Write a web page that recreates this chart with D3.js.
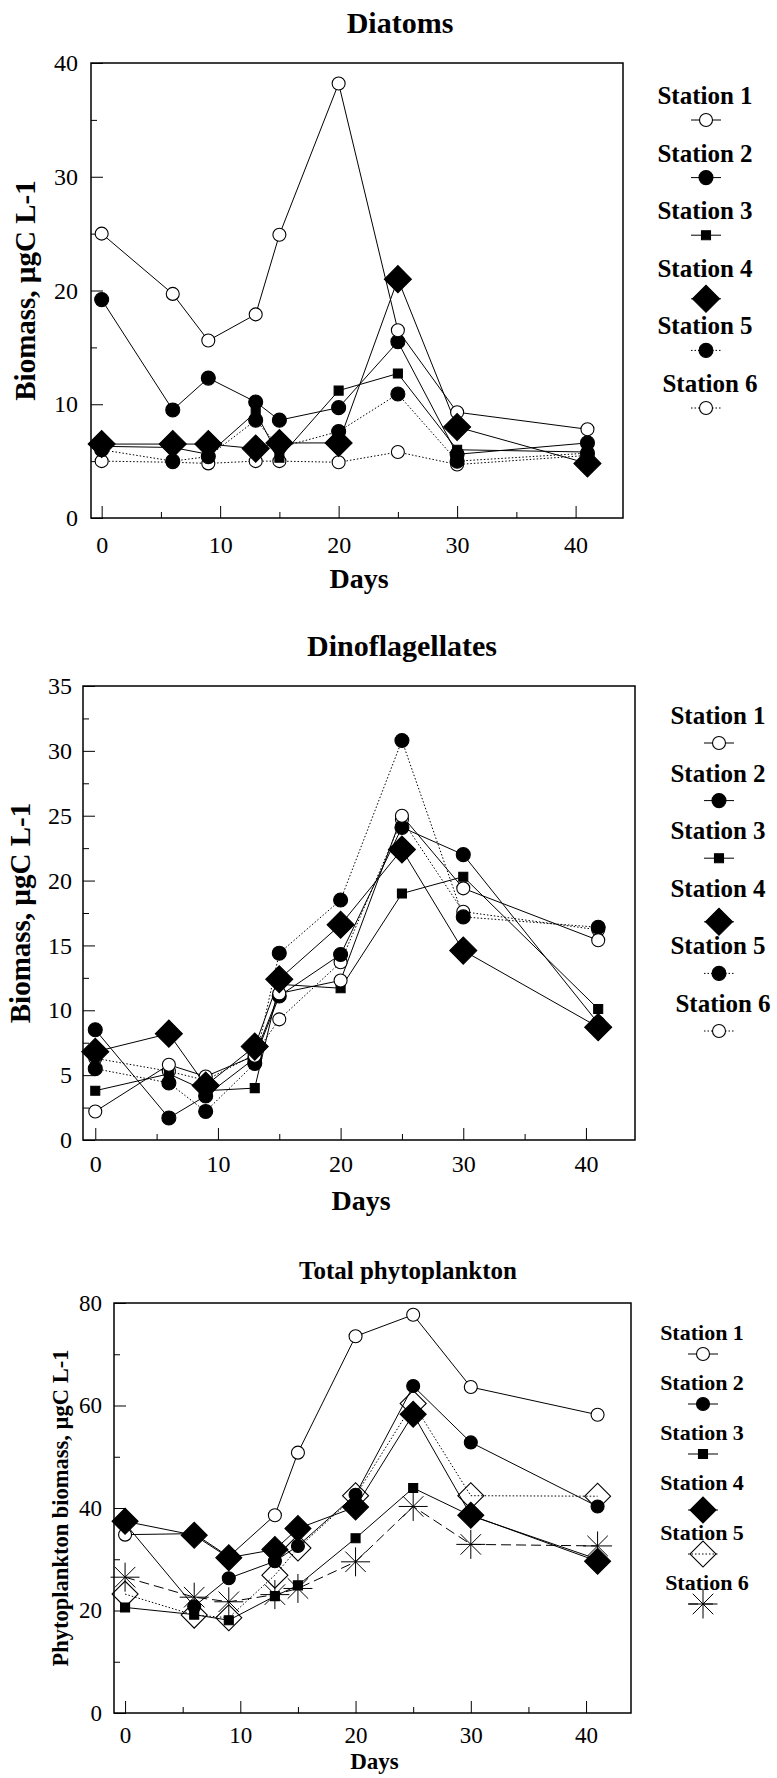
<!DOCTYPE html>
<html>
<head>
<meta charset="utf-8">
<script src="https://cdn.jsdelivr.net/npm/d3@7"></script>
<style>
  body { margin: 0; background: #fff; }
  text { font-family: "Liberation Serif", "Times New Roman", serif; fill: #000; }
</style>
</head>
<body>
<svg id="fig" width="777" height="1778"></svg>
<script>
// sampling days and station names
var days = [0, 6, 9, 13, 15, 20, 25, 30, 41];
var stationNames = ["Station 1", "Station 2", "Station 3", "Station 4", "Station 5", "Station 6"];
var dayTicks = [0, 10, 20, 30, 40];
var dayMinorTicks = [5, 15, 25, 35];

// Diatoms biomass, one row per station
var diatoms = [
    [25.0, 19.7, 15.6, 17.9, 24.9, 38.2, 16.5, 9.3, 7.8],
    [19.2, 9.5, 12.3, 10.2, 8.6, 9.7, 15.5, 5.6, 6.6],
    [6.3, 6.2, 5.6, 9.3, 5.3, 11.2, 12.7, 6.0, 5.8],
    [6.5, 6.5, 6.5, 6.1, 6.6, 6.6, 21.0, 8.0, 4.8],
    [6.0, 5.0, 5.4, 8.6, 6.2, 7.6, 10.9, 5.0, 5.7],
    [5.0, 4.9, 4.8, 5.0, 5.0, 4.9, 5.8, 4.7, 5.5]
];
var diatomTicks = [0, 10, 20, 30, 40];
var diatomMinorTicks = [5, 15, 25, 35];

// Dinoflagellates biomass
var dinoflagellates = [
    [2.2, 5.8, 4.9, 6.5, 11.3, 12.3, 25.0, 19.4, 15.4],
    [8.5, 1.7, 3.4, 6.3, 11.1, 14.3, 24.1, 22.0, 9.0],
    [3.8, 5.1, 3.8, 4.0, 12.0, 11.7, 19.0, 20.3, 10.1],
    [6.8, 8.2, 4.2, 7.2, 12.4, 16.6, 22.4, 14.6, 8.7],
    [5.5, 4.4, 2.2, 5.9, 14.4, 18.5, 30.8, 17.2, 16.4],
    [6.3, 5.3, 4.6, 6.6, 9.3, 13.7, 24.7, 17.6, 16.2]
];
var dinoTicks = [0, 5, 10, 15, 20, 25, 30, 35];
var dinoMinorTicks = [2.5, 7.5, 12.5, 17.5, 22.5, 27.5, 32.5];

// Total phytoplankton biomass
var totalPhyto = [
    [34.8, 35.0, 30.5, 38.6, 50.8, 73.5, 77.7, 63.6, 58.2],
    [37.0, 20.8, 26.3, 29.6, 32.6, 42.6, 63.8, 52.8, 40.3],
    [20.6, 19.2, 18.1, 22.8, 24.9, 34.1, 43.9, 38.5, 30.0],
    [37.4, 34.7, 30.3, 31.9, 36.0, 40.2, 58.3, 38.6, 29.6],
    [23.2, 19.1, 18.6, 26.9, 32.2, 42.4, 60.4, 42.4, 42.3],
    [26.5, 22.6, 21.7, 23.1, 24.3, 29.5, 40.3, 32.9, 32.6]
];
var totalTicks = [0, 20, 40, 60, 80];
var totalMinorTicks = [10, 30, 50, 70];

var DOT = "1.5,2", DASH = "10,5";
var SERIF = '"Liberation Serif", "Times New Roman", serif';

// marker look per station (panels 1 and 2 share one set)
var styleA = [
    { shape: "circle", r: 6.5, fill: "#fff", dash: null },
    { shape: "circle", r: 7, fill: "#000", dash: null },
    { shape: "square", r: 4.5, fill: "#000", dash: null },
    { shape: "diamond", r: 13.5, fill: "#000", dash: null },
    { shape: "circle", r: 7, fill: "#000", dash: DOT },
    { shape: "circle", r: 6.5, fill: "#fff", dash: DOT }
];
var styleB = [
    { shape: "circle", r: 6.5, fill: "#fff", dash: null },
    { shape: "circle", r: 6.5, fill: "#000", dash: null },
    { shape: "square", r: 4.5, fill: "#000", dash: null },
    { shape: "diamond", r: 13, fill: "#000", dash: null },
    { shape: "diamond", r: 13, fill: "none", dash: DOT },
    { shape: "asterisk", r: 14.5, fill: "none", dash: DASH }
];

// 8-armed star, stroke only
var symbolStar = {
    draw: function(context, size) {
        var r = Math.sqrt(size) / 2, d = r * Math.SQRT1_2;
        context.moveTo(-r, 0); context.lineTo(r, 0);
        context.moveTo(0, -r); context.lineTo(0, r);
        context.moveTo(-d, -d); context.lineTo(d, d);
        context.moveTo(-d, d); context.lineTo(d, -d);
    }
};

function markerPath(st) {
    if (st.shape === "circle") return d3.symbol(d3.symbolCircle, Math.PI * st.r * st.r)();
    if (st.shape === "square") return d3.symbol(d3.symbolSquare, 4 * st.r * st.r)();
    if (st.shape === "diamond") return d3.symbol(d3.symbolSquare, 2 * st.r * st.r)();
    return d3.symbol(symbolStar, 4 * st.r * st.r)();
}

function drawMarker(sel, st, px, py) {
    sel.append("path")
        .attr("d", markerPath(st))
        .attr("transform", "translate(" + px + "," + py + ")" + (st.shape === "diamond" ? " rotate(45)" : ""))
        .attr("fill", st.fill)
        .attr("stroke", "#000")
        .attr("stroke-width", st.shape === "asterisk" ? 1 : 1.1);
}

var svg = d3.select("#fig");

function drawPanel(p) {
    var g = svg.append("g");
    var x = d3.scaleLinear().domain(p.xDomain).range([p.left, p.right]);
    var y = d3.scaleLinear().domain(p.yDomain).range([p.bottom, p.top]);

    // title
    g.append("text")
        .attr("x", p.titleX).attr("y", p.titleY)
        .attr("text-anchor", "middle")
        .style("font-size", p.titleSize + "px")
        .style("font-weight", "bold")
        .text(p.title);

    // axes, ticks pointing inside
    var xAxis = g.append("g").attr("transform", "translate(0," + p.bottom + ")")
        .call(d3.axisBottom(x).tickValues(dayTicks).tickSize(-12).tickPadding(p.xPad));
    g.append("g").attr("transform", "translate(0," + p.bottom + ")")
        .call(d3.axisBottom(x).tickValues(dayMinorTicks).tickSize(-6).tickFormat(""));
    var yAxis = g.append("g").attr("transform", "translate(" + p.left + ",0)")
        .call(d3.axisLeft(y).tickValues(p.yTicks).tickSize(-12).tickPadding(p.yPad));
    g.append("g").attr("transform", "translate(" + p.left + ",0)")
        .call(d3.axisLeft(y).tickValues(p.yMinor).tickSize(-6).tickFormat(""));
    g.selectAll(".domain").remove();
    g.selectAll(".tick line").attr("stroke", "#000").attr("stroke-width", 1);
    [xAxis, yAxis].forEach(function(a) {
        a.attr("font-family", SERIF).attr("font-size", p.tickSize);
        a.selectAll("text")
            .attr("fill", "#000")
            .style("font-family", SERIF)
            .style("font-size", p.tickSize + "px");
    });

    // frame
    g.append("rect")
        .attr("x", p.left).attr("y", p.top)
        .attr("width", p.right - p.left).attr("height", p.bottom - p.top)
        .attr("fill", "none").attr("stroke", "#000").attr("stroke-width", 1.5);

    // axis labels
    g.append("text")
        .attr("x", (p.left + p.right) / 2 + 2).attr("y", p.daysY)
        .attr("text-anchor", "middle")
        .style("font-size", p.daysSize + "px").style("font-weight", "bold")
        .text("Days");
    g.append("text")
        .attr("transform", "translate(" + p.yLabelX + "," + (p.top + p.bottom) / 2 + ") rotate(-90)")
        .attr("text-anchor", "middle")
        .style("font-size", p.yLabelSize + "px").style("font-weight", "bold")
        .text(p.yLabel);

    // station lines
    var line = d3.line().x(function(d, i) { return x(days[i]); }).y(function(d) { return y(d); });
    p.data.forEach(function(vals, s) {
        g.append("path")
            .attr("d", line(vals))
            .attr("fill", "none")
            .attr("stroke", "#000")
            .attr("stroke-width", 1)
            .attr("stroke-dasharray", p.styles[s].dash);
    });

    // markers, diamonds last so they sit on top
    [5, 4, 2, 1, 0, 3].forEach(function(s) {
        p.data[s].forEach(function(v, i) {
            drawMarker(g, p.styles[s], x(days[i]), y(v));
        });
    });

    // legend
    stationNames.forEach(function(name, s) {
        var ty = p.legendY + s * p.legendStep;
        g.append("text")
            .attr("x", p.legendX + (s === 5 ? 5 : 0)).attr("y", ty)
            .attr("text-anchor", "middle")
            .style("font-size", p.legendSize + "px").style("font-weight", "bold")
            .text(name);
        var sy = ty + p.legendGap + (s === 3 ? 6 : 0);
        g.append("line")
            .attr("x1", p.legendX - 14).attr("x2", p.legendX + 16)
            .attr("y1", sy).attr("y2", sy)
            .attr("stroke", "#000").attr("stroke-width", 1)
            .attr("stroke-dasharray", p.styles[s].dash);
        drawMarker(g, p.styles[s], p.legendX + 1, sy);
    });
}

drawPanel({
    title: "Diatoms", titleX: 400, titleY: 33, titleSize: 30,
    left: 91, right: 623, top: 63, bottom: 518,
    xDomain: [-0.9, 44], yDomain: [0, 40],
    yTicks: diatomTicks, yMinor: diatomMinorTicks,
    xPad: 18, yPad: 13, tickSize: 24,
    daysY: 588, daysSize: 28,
    yLabel: "Biomass, \u00b5gC L-1", yLabelX: 35, yLabelSize: 29,
    data: diatoms, styles: styleA,
    legendX: 705, legendY: 104, legendStep: 57.6, legendGap: 16, legendSize: 25
});

drawPanel({
    title: "Dinoflagellates", titleX: 402, titleY: 656, titleSize: 30,
    left: 83, right: 635, top: 686, bottom: 1140,
    xDomain: [-1.0, 44], yDomain: [0, 35],
    yTicks: dinoTicks, yMinor: dinoMinorTicks,
    xPad: 15, yPad: 11, tickSize: 24,
    daysY: 1210, daysSize: 28,
    yLabel: "Biomass, \u00b5gC L-1", yLabelX: 30, yLabelSize: 29,
    data: dinoflagellates, styles: styleA,
    legendX: 718, legendY: 724, legendStep: 57.6, legendGap: 19, legendSize: 25
});

drawPanel({
    title: "Total phytoplankton", titleX: 408, titleY: 1279, titleSize: 25,
    left: 114, right: 631, top: 1303, bottom: 1713,
    xDomain: [-0.96, 43.9], yDomain: [0, 80],
    yTicks: totalTicks, yMinor: totalMinorTicks,
    xPad: 14, yPad: 12, tickSize: 23,
    daysY: 1769, daysSize: 23,
    yLabel: "Phytoplankton biomass, \u00b5gC L-1", yLabelX: 68, yLabelSize: 22.5,
    data: totalPhyto, styles: styleB,
    legendX: 702, legendY: 1340, legendStep: 50, legendGap: 14, legendSize: 22
});
</script>
</body>
</html>
